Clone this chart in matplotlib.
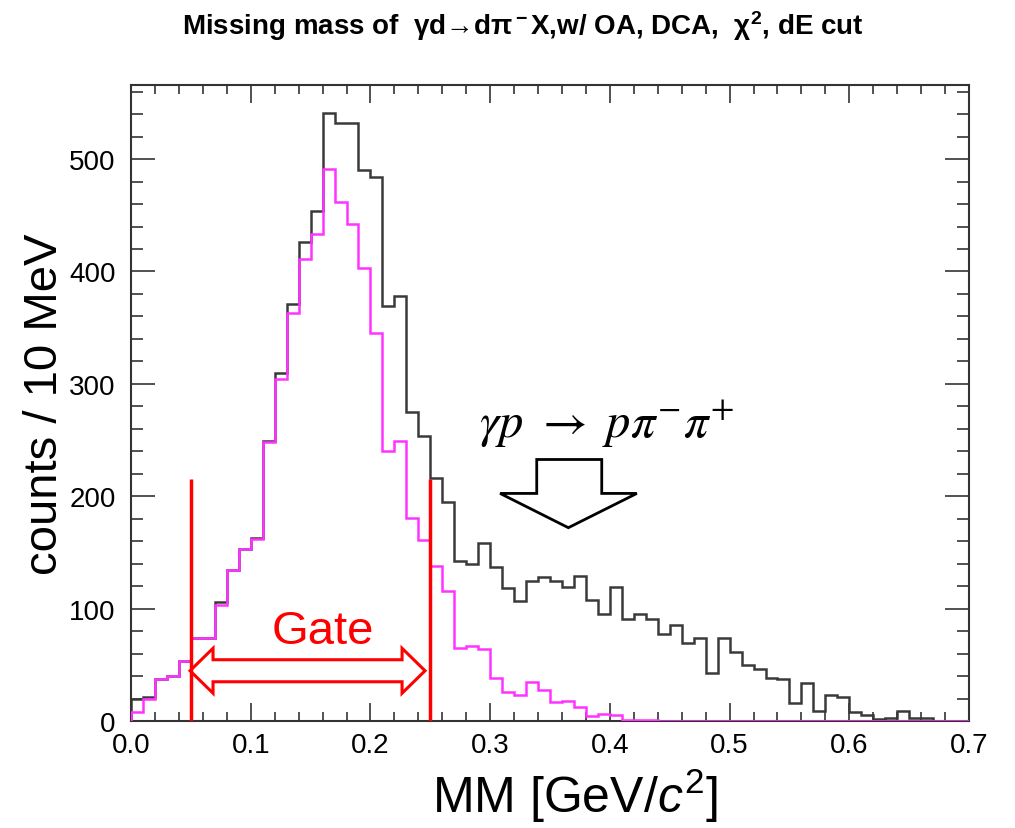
import numpy as np
import matplotlib
matplotlib.use('Agg')
import matplotlib.pyplot as plt
import matplotlib.patches as mpatches
from matplotlib.ticker import MultipleLocator, FormatStrFormatter

# Fonts
plt.rcParams['font.family'] = ['Liberation Sans', 'DejaVu Sans']
plt.rcParams['mathtext.fontset'] = 'custom'
plt.rcParams['mathtext.rm'] = 'Liberation Sans'
plt.rcParams['mathtext.it'] = 'Liberation Sans:italic'
plt.rcParams['mathtext.bf'] = 'Liberation Sans:bold'

# Histogram data: 10 MeV bins from 0.0 to 0.7 GeV/c^2
bin_width = 0.01
all_counts = [20, 21, 37, 40, 53, 74, 74, 106, 134, 153,
              163, 249, 310, 371, 426, 454, 541, 532, 532, 490,
              484, 369, 378, 275, 254, 216, 195, 142, 140, 158,
              137, 118, 107, 125, 128, 125, 119, 129, 108, 95,
              119, 91, 95, 91, 77, 85, 69, 74, 43, 74,
              61, 50, 46, 38, 37, 16, 34, 9, 23, 21,
              8, 5, 2, 3, 9, 3, 3, 0, 0, 0]
gated_counts = [8, 20, 37, 40, 53, 74, 74, 103, 134, 153,
                162, 248, 304, 363, 411, 433, 491, 462, 442, 403,
                345, 240, 249, 181, 161, 138, 116, 65, 67, 64,
                38, 26, 23, 35, 28, 17, 18, 12, 4, 6,
                5, 1, 1, 1, 0, 0, 0, 0, 0, 0,
                0, 0, 0, 0, 0, 0, 0, 0, 0, 0,
                0, 0, 0, 0, 0, 0, 0, 0, 0, 0]

# Gate
gate_low, gate_high = 0.05, 0.25
gate_line_top = 215

edges = np.arange(len(all_counts) + 1) * bin_width

fig = plt.figure(figsize=(10.15, 8.29), dpi=100)
ax = fig.add_axes([0.1291, 0.1291, 0.8256, 0.7672])

ax.stairs(all_counts, edges, color='#3a3a3a', lw=1.8, zorder=2)
ax.stairs(gated_counts, edges, color='#ff33ff', lw=1.8, zorder=3)

# gate lines
ax.vlines([gate_low, gate_high], 0, gate_line_top, color='red', lw=2.5, zorder=4)

# hollow double arrow between the gate lines
x0, x1, yc = 0.0493, 0.2456, 44.7
sh, hh, hl = 9.8, 20.0, 0.0192
gate_arrow = [(x0, yc), (x0 + hl, yc + hh), (x0 + hl, yc + sh), (x1 - hl, yc + sh),
              (x1 - hl, yc + hh), (x1, yc), (x1 - hl, yc - hh), (x1 - hl, yc - sh),
              (x0 + hl, yc - sh), (x0 + hl, yc - hh)]
ax.add_patch(mpatches.Polygon(gate_arrow, closed=True, fill=False,
                              edgecolor='red', lw=2.2, zorder=5))
ax.text(0.1605, 80, 'Gate', color='red', fontsize=34, ha='center', va='center')

# hollow down arrow for the background reaction
down_arrow = [(0.3389, 232.7), (0.3932, 232.7), (0.3932, 202.5), (0.4225, 202.5),
              (0.3653, 172), (0.3083, 202.5), (0.3389, 202.5)]
ax.add_patch(mpatches.Polygon(down_arrow, closed=True, fill=False,
                              edgecolor='black', lw=2.0, zorder=5))
ax.text(0.397, 265, r'$\gamma p\ \rightarrow\ p\pi^{-}\pi^{+}$', fontsize=35,
        ha='center', va='center', math_fontfamily='stix')

# axes
ax.set_xlim(0, 0.7)
ax.set_ylim(0, 566)
ax.xaxis.set_major_locator(MultipleLocator(0.1))
ax.xaxis.set_minor_locator(MultipleLocator(0.02))
ax.xaxis.set_major_formatter(FormatStrFormatter('%.1f'))
ax.yaxis.set_major_locator(MultipleLocator(100))
ax.yaxis.set_minor_locator(MultipleLocator(20))
ax.tick_params(which='both', direction='in', top=True, right=True,
               color='#333333', width=1.2, labelsize=20)
ax.tick_params(axis='x', which='major', length=13, pad=8)
ax.tick_params(axis='x', which='minor', length=6.5)
ax.tick_params(axis='y', which='major', length=17, pad=11)
ax.tick_params(axis='y', which='minor', length=8.5)
for sp in ax.spines.values():
    sp.set_linewidth(1.5)
    sp.set_color('#333333')

ax.set_xlabel(r'MM [GeV/$c^{2}$]', fontsize=36)
ax.xaxis.set_label_coords(0.53, -0.07)
ax.set_ylabel('counts / 10 MeV', fontsize=34)
ax.yaxis.set_label_coords(-0.077, 0.5)

fig.text(0.515, 0.969, r'Missing mass of  γd→dπ$^{\bf -}$$\mathbf{X}$,w/ OA, DCA,  χ$^{\bf 2}$, dE cut',
         fontsize=20, fontweight='bold', ha='center', va='center')

fig.savefig('out.png', dpi=100)
